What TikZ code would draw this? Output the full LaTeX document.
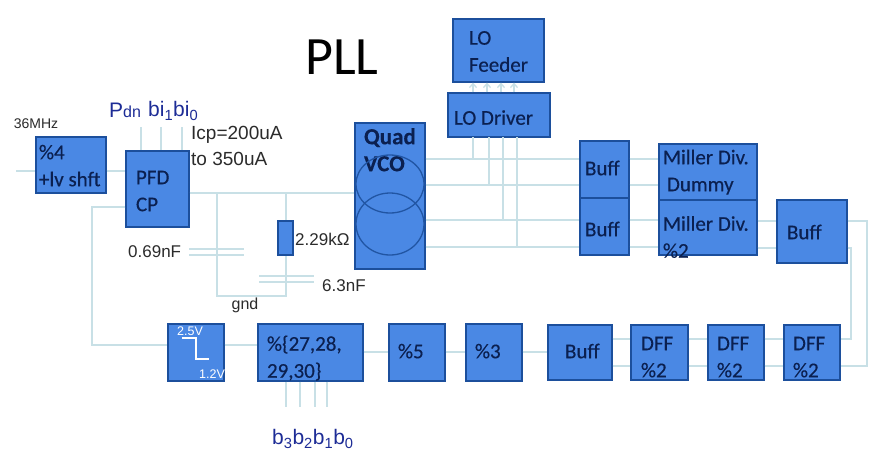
\documentclass[tikz,border=0pt]{standalone}
\usepackage{fontspec}
\setmainfont{Carlito}
\newfontfamily\blk[FakeBold=0.3]{Carlito}
\newfontfamily\lab{Liberation Sans}
\usetikzlibrary{arrows.meta}
\definecolor{boxfill}{HTML}{4A88E4}
\definecolor{boxedge}{HTML}{1C4F9C}
\definecolor{wire}{HTML}{C8E0E6}
\definecolor{ink}{HTML}{0B2050}
\definecolor{navy}{HTML}{1D2C96}
\definecolor{grayink}{HTML}{2B2B2B}
\tikzset{
  box/.style={draw=boxedge,fill=boxfill,line width=1.2pt,inner sep=0pt,text=ink,font=\blk\fontsize{21}{27}\selectfont},
  wired/.style={draw=wire,line width=1.3pt},
  ring/.style={draw=boxedge!90!boxfill,line width=1.3pt},
  note/.style={inner sep=0pt,text=grayink,font=\lab\fontsize{17}{24}\selectfont},
  ctl/.style={inner sep=0pt,text=navy,font=\lab\fontsize{21}{24}\selectfont},
  whitenote/.style={inner sep=0pt,text=white,font=\lab\fontsize{12.5}{14}\selectfont}
}
% name, x1, y1, x2, y2, left pad of text, rise of text above centre, text
\newcommand\bx[8]{%
  \pgfmathsetmacro\bw{#4-#2}\pgfmathsetmacro\bh{#5-#3}%
  \pgfmathsetmacro\cx{(#2+#4)/2}\pgfmathsetmacro\cy{(#3+#5)/2}%
  \pgfmathsetmacro\sh{#6-(#4-#2)/2}\pgfmathsetmacro\rs{#7-7.5}%
  \node[box,minimum width=\bw pt,minimum height=\bh pt] (#1) at (\cx,\cy)
    {\rlap{\hspace*{\sh pt}\raisebox{\rs pt}[0pt][0pt]{\begin{tabular}[c]{@{}l@{}}#8\end{tabular}}}};%
}
\begin{document}
\begin{tikzpicture}[x=1pt,y=-1pt]
\useasboundingbox (0,0) rectangle (877,450);
\fill[white] (0,0) rectangle (877,450);
\node[inner sep=0pt,text=black,font=\fontsize{54}{60}\selectfont] (title) at (342,57) {PLL};
% blocks
\bx{div4}{36}{137}{106}{193}{3}{0}{\%4\\+lv shft}
\bx{pfd}{126}{151}{189}{227}{10}{-1}{PFD\\CP}
\bx{res}{278}{221}{293}{255}{0}{0}{}
\bx{vco}{355}{123}{425}{269}{9}{46}{\bfseries\fontsize{23}{27}\selectfont Quad\\\bfseries\fontsize{23}{27}\selectfont VCO}
\draw[ring] (390,184) ellipse (34 and 29);
\draw[ring] (390,224) ellipse (34 and 31);
\bx{feeder}{453}{19}{544}{82}{16}{0}{LO\\Feeder}
\bx{driver}{448}{93}{550}{137}{6}{-2}{LO Driver}
\bx{buffa}{580}{141}{629}{198}{5}{2}{Buff}
\bx{buffb}{580}{198}{629}{255}{5}{-2}{Buff}
\bx{milla}{659}{144}{757}{200}{4}{2}{Miller Div.\\\hspace*{4pt}Dummy}
\bx{millb}{659}{200}{757}{255}{4}{-9}{Miller Div.\\\%2}
\bx{buffc}{777}{200}{847}{263}{10}{0}{Buff}
\bx{level}{168}{324}{224}{381}{0}{0}{}
\bx{prog}{258}{324}{363}{381}{9}{-4}{\%\{27,28,\\29,30\}}
\bx{five}{389}{324}{445}{381}{9}{2}{\%5}
\bx{three}{466}{324}{522}{381}{9}{2}{\%3}
\bx{buffd}{548}{325}{612}{380}{17}{2}{Buff}
\bx{dffa}{631}{325}{688}{380}{10}{-3.5}{DFF\\\%2}
\bx{dffb}{708}{325}{764}{380}{9}{-3.5}{DFF\\\%2}
\bx{dffc}{784}{325}{840}{380}{9}{-3.5}{DFF\\\%2}
% level shifter glyph
\node[whitenote] (hi) at (190,331) {2.5V};
\node[whitenote] (lo) at (212,374) {1.2V};
\draw[white,line width=2pt] (182,338) -- (196,338) -- (196,359) -- (209,359);
% input side
\coordinate (in) at (16,171);
\draw[wired] (in) -- (div4.west |- in);
\draw[wired] (div4.east |- 0,171) -- (pfd.west |- 0,171);
\coordinate (pa) at (141,127);\coordinate (pb) at (161,127);\coordinate (pc) at (182,127);
\draw[wired] (pa) -- (pa |- pfd.north);
\draw[wired] (pb) -- (pb |- pfd.north);
\draw[wired] (pc) -- (pc |- pfd.north);
% loop filter
\coordinate (ca) at (217,193);\coordinate (cb) at (217,296);\coordinate (cc) at (286,296);\coordinate (cd) at (286,193);
\draw[wired] (pfd.east |- ca) -- (vco.west |- ca);
\draw[wired] (ca) -- (cb) -- (cc) -- (res.south -| cc);
\draw[wired] (cd) -- (res.north -| cd);
\coordinate (c1a) at (189,249);\coordinate (c1b) at (244,249);\coordinate (c1c) at (189,255);\coordinate (c1d) at (244,255);
\coordinate (c2a) at (259,276);\coordinate (c2b) at (314,276);\coordinate (c2c) at (259,282);\coordinate (c2d) at (314,282);
\draw[wired] (c1a) -- (c1b) (c1c) -- (c1d) (c2a) -- (c2b) (c2c) -- (c2d);
% VCO to buffers
\foreach \yy in {159,185}{\draw[wired] (vco.east |- 0,\yy) -- (buffa.west |- 0,\yy);
  \draw[wired] (buffa.east |- 0,\yy) -- (milla.west |- 0,\yy);}
\foreach \yy in {220,247}{\draw[wired] (vco.east |- 0,\yy) -- (buffb.west |- 0,\yy);
  \draw[wired] (buffb.east |- 0,\yy) -- (millb.west |- 0,\yy);}
% LO driver taps
\draw[wired] (473,137) -- (473,159);
\draw[wired] (489,137) -- (489,185);
\draw[wired] (503,137) -- (503,220);
\draw[wired] (517,137) -- (517,247);
\foreach \xx in {473,487,501,514}{\draw[wired,-{Straight Barb[length=4pt,width=7pt]}] (driver.north -| \xx,0) -- (feeder.south -| \xx,0);}
% divider chain
\draw[wired] (millb.east |- 0,221) -- (buffc.west |- 0,221);
\draw[wired] (millb.east |- 0,248) -- (buffc.west |- 0,248);
\coordinate (ra) at (867,221);\coordinate (rb) at (867,366);\coordinate (rc) at (851,248);\coordinate (rd) at (851,339);
\draw[wired] (buffc.east |- ra) -- (ra) -- (rb) -- (dffc.east |- rb);
\draw[wired] (buffc.east |- rc) -- (rc) -- (rd) -- (dffc.east |- rd);
\foreach \yy in {339,366}{
  \draw[wired] (buffd.east |- 0,\yy) -- (dffa.west |- 0,\yy);
  \draw[wired] (dffa.east |- 0,\yy) -- (dffb.west |- 0,\yy);
  \draw[wired] (dffb.east |- 0,\yy) -- (dffc.west |- 0,\yy);}
\draw[wired] (prog.east |- 0,352) -- (five.west |- 0,352);
\draw[wired] (five.east |- 0,352) -- (three.west |- 0,352);
\draw[wired] (three.east |- 0,352) -- (buffd.west |- 0,352);
\draw[wired] (level.east |- 0,345) -- (prog.west |- 0,345);
\coordinate (fa) at (92,207);\coordinate (fb) at (92,345);
\draw[wired] (pfd.west |- fa) -- (fa) -- (fb) -- (level.west |- fb);
\foreach \xx in {286,300,315,327}{\draw[wired] (prog.south -| \xx,0) -- (\xx,407);}
% labels
\node[note,font=\lab\fontsize{14}{16}\selectfont] (fin) at (36,124) {36MHz};
\node[ctl,anchor=west] (pdn) at (109,110) {P{\fontsize{16}{18}\selectfont dn}};
\node[ctl,anchor=west] (bi) at (148,111) {bi\textsubscript{1}bi\textsubscript{0}};
\node[note,anchor=west,font=\lab\fontsize{19}{24}\selectfont] (icp) at (191,135) {Icp=200uA};
\node[note,anchor=west,font=\lab\fontsize{19}{24}\selectfont] (icq) at (191,159) {to 350uA};
\node[note,anchor=west] (c1) at (128,252) {0.69nF};
\node[note,anchor=west] (r1) at (295,239) {2.29kΩ};
\node[note,anchor=west] (c2) at (322,286) {6.3nF};
\node[note,font=\lab\fontsize{16}{20}\selectfont] (gnd) at (245,305) {gnd};
\node[ctl,anchor=west] (bits) at (272,439) {b\textsubscript{3}b\textsubscript{2}b\textsubscript{1}b\textsubscript{0}};
\end{tikzpicture}
\end{document}
